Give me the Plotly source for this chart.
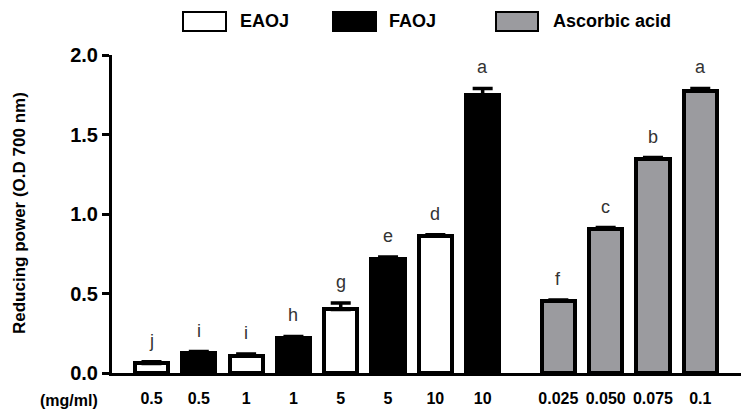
import plotly.graph_objects as go

# ---- data ----
extract_conc = ["0.5", "1", "5", "10"]
eaoj = [0.06, 0.11, 0.40, 0.86]
eaoj_err = [0.01, 0.01, 0.04, 0.01]
eaoj_letters = ["j", "i", "g", "d"]

faoj = [0.125, 0.22, 0.72, 1.75]
faoj_err = [0.01, 0.01, 0.01, 0.04]
faoj_letters = ["i", "h", "e", "a"]

aa_conc = ["0.025", "0.050", "0.075", "0.1"]
aa = [0.455, 0.905, 1.345, 1.775]
aa_err = [0.004, 0.01, 0.01, 0.015]
aa_letters = ["f", "c", "b", "a"]

series_names = ["EAOJ", "FAOJ", "Ascorbic acid"]
y_title = "Reducing power (O.D 700 nm)"
unit_label = "(mg/ml)"

# ---- layout geometry (page pixels; page body has an 8px margin) ----
OFF = 8
W, H = 749 - OFF, 415 - OFF
ML, MR, MT, MB = 112 - OFF, 0, 55 - OFF, 42
PW, PH = W - ML - MR, H - MT - MB
GAP = 8.6  # start position of ascorbic acid group

x_eaoj = [2 * i for i in range(len(eaoj))]
x_faoj = [2 * i + 1 for i in range(len(faoj))]
x_aa = [GAP + i for i in range(len(aa))]

fills = ["#ffffff", "#000000", "#9b9b9f"]
BAR_W = 0.70


def px(xp):
    return (xp - OFF - ML) / PW


def py(yp):
    return (H - MB - (yp - OFF)) / PH


fig = go.Figure()
for xs, ys, es, fill, name in [
    (x_eaoj, eaoj, eaoj_err, fills[0], series_names[0]),
    (x_faoj, faoj, faoj_err, fills[1], series_names[1]),
    (x_aa, aa, aa_err, fills[2], series_names[2]),
]:
    fig.add_trace(go.Bar(
        x=xs, y=ys, width=BAR_W, name=name,
        marker=dict(color=fill, line=dict(color="#000000", width=4)),
        error_y=dict(type="data", array=es, arrayminus=[0] * len(es),
                     symmetric=False, color="#000000", thickness=3.5, width=10),
        showlegend=False,
    ))

# significance letters
for xs, ys, es, ls in [
    (x_eaoj, eaoj, eaoj_err, eaoj_letters),
    (x_faoj, faoj, faoj_err, faoj_letters),
    (x_aa, aa, aa_err, aa_letters),
]:
    for xv, yv, ev, lt in zip(xs, ys, es, ls):
        fig.add_annotation(x=xv, y=yv + ev, text=lt, showarrow=False,
                           yanchor="bottom", yshift=9,
                           font=dict(family="Arial", size=18, color="#333333"))

tickvals = []
ticktext = []
for i, c in enumerate(extract_conc):
    tickvals += [x_eaoj[i], x_faoj[i]]
    ticktext += [c, c]
tickvals += x_aa
ticktext += aa_conc

# legend drawn with shapes + text
legend_items = [
    (183, 226, fills[0], 238, series_names[0]),
    (333, 376, fills[1], 387, series_names[1]),
    (496, 538, fills[2], 551, series_names[2]),
]
for x0, x1, fill, tx, name in legend_items:
    fig.add_shape(type="rect", xref="paper", yref="paper",
                  x0=px(x0), x1=px(x1), y0=py(31), y1=py(12),
                  fillcolor=fill, line=dict(color="#000000", width=2))
    fig.add_annotation(xref="paper", yref="paper", x=px(tx), y=py(21),
                       xanchor="left", yanchor="middle", text=f"<b>{name}</b>",
                       showarrow=False,
                       font=dict(family="Arial", size=18, color="#000000"))

fig.add_annotation(xref="paper", yref="paper", x=px(69), y=py(400),
                   xanchor="center", yanchor="middle", text=f"<b>{unit_label}</b>",
                   showarrow=False, font=dict(family="Arial", size=16, color="#000000"))
fig.add_annotation(xref="paper", yref="paper", x=px(19), y=py(213),
                   xanchor="center", yanchor="middle", textangle=-90,
                   text=f"<b>{y_title}</b>", showarrow=False,
                   font=dict(family="Arial", size=17, color="#000000"))

fig.update_layout(
    width=W, height=H,
    margin=dict(l=ML, r=MR, t=MT, b=MB, pad=0),
    paper_bgcolor="#ffffff", plot_bgcolor="#ffffff",
    bargap=0,
    xaxis=dict(range=[-0.835, 12.63], tickvals=tickvals,
               ticktext=[f"<b>{t}</b>" for t in ticktext],
               showgrid=False, zeroline=False, showline=True, linecolor="#000000",
               linewidth=3, ticks="", tickfont=dict(family="Arial", size=16, color="#000000"),
               ticklabelstandoff=9),
    yaxis=dict(range=[0, 2.0], tickvals=[0, 0.5, 1.0, 1.5, 2.0],
               ticktext=["<b>0.0</b>", "<b>0.5</b>", "<b>1.0</b>", "<b>1.5</b>", "<b>2.0</b>"],
               showgrid=False, zeroline=False, showline=True, linecolor="#000000",
               linewidth=3, ticks="outside", ticklen=7, tickwidth=2.5, tickcolor="#000000",
               tickfont=dict(family="Arial", size=20, color="#000000")),
)

fig.write_html("out.html")
